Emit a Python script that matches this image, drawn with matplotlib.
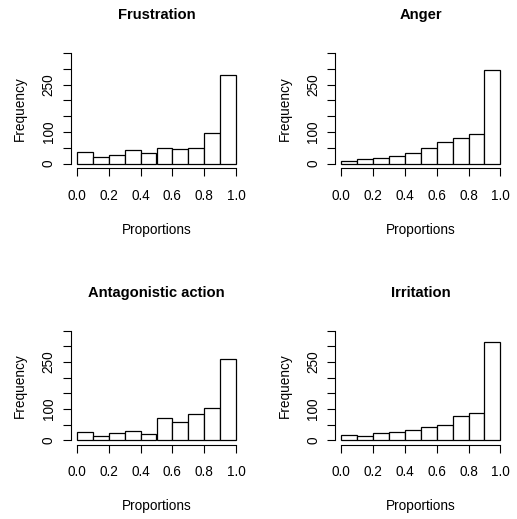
import numpy as np
import matplotlib
matplotlib.use('Agg')
import matplotlib.pyplot as plt

plt.rcParams['font.family'] = ['Liberation Sans', 'DejaVu Sans']

edges = np.round(np.arange(0, 1.01, 0.1), 1)
titles = ['Frustration', 'Anger', 'Antagonistic action', 'Irritation']
frustration = [38, 20, 28, 42, 35, 48, 45, 50, 98, 280]
anger = [9, 14, 17, 23, 34, 48, 70, 80, 93, 297]
antagonistic = [26, 13, 24, 29, 20, 70, 57, 85, 102, 261]
irritation = [17, 14, 22, 26, 32, 44, 50, 79, 88, 313]
counts = [frustration, anger, antagonistic, irritation]

y_ticks = np.arange(0, 351, 50)
y_labels = ['0', '', '100', '', '', '250', '', '']
x_ticks = [0.0, 0.2, 0.4, 0.6, 0.8, 1.0]

W, H = 517, 519
fig = plt.figure(figsize=(W / 100, H / 100), dpi=100)

# plot regions in pixels: left, right, top, bottom
boxes = [(70.6, 242.4, 48.4, 168.1),
         (335.0, 506.7, 48.4, 168.1),
         (70.6, 242.4, 326.4, 444.7),
         (335.0, 506.7, 326.4, 444.7)]

for (l, r, t, b), title, c in zip(boxes, titles, counts):
    ax = fig.add_axes([l / W, 1 - b / H, (r - l) / W, (b - t) / H])
    ax.bar(edges[:-1], c, width=0.1, align='edge', facecolor='white',
           edgecolor='black', linewidth=0.9)
    ax.set_xlim(-0.04, 1.04)
    ax.set_ylim(-14, 364)
    for s in ['top', 'right']:
        ax.spines[s].set_visible(False)
    ax.spines['left'].set_bounds(0, 350)
    ax.spines['bottom'].set_bounds(0, 1)
    for s in ['left', 'bottom']:
        ax.spines[s].set_linewidth(0.8)
    ax.set_xticks(x_ticks)
    ax.set_xticklabels(['%.1f' % v for v in x_ticks])
    ax.set_yticks(y_ticks)
    ax.set_yticklabels(y_labels, rotation=90, va='center')
    ax.tick_params(axis='both', length=5.5, width=0.8, labelsize=9.8)
    ax.tick_params(axis='x', pad=9.4)
    ax.tick_params(axis='y', pad=5.3)
    ax.set_xlabel('Proportions', fontsize=9.8)
    ax.set_ylabel('Frequency', fontsize=9.8)
    ax.xaxis.set_label_coords(0.5, -0.517)
    ax.yaxis.set_label_coords(-0.2945, 0.5)
    ax.xaxis.label.set_va('center')
    ax.yaxis.label.set_va('center')
    ax.text(0.5, 1.28, title, transform=ax.transAxes, ha='center',
            va='center', fontsize=10.6, fontweight='bold')

fig.savefig('out.png', dpi=100)
